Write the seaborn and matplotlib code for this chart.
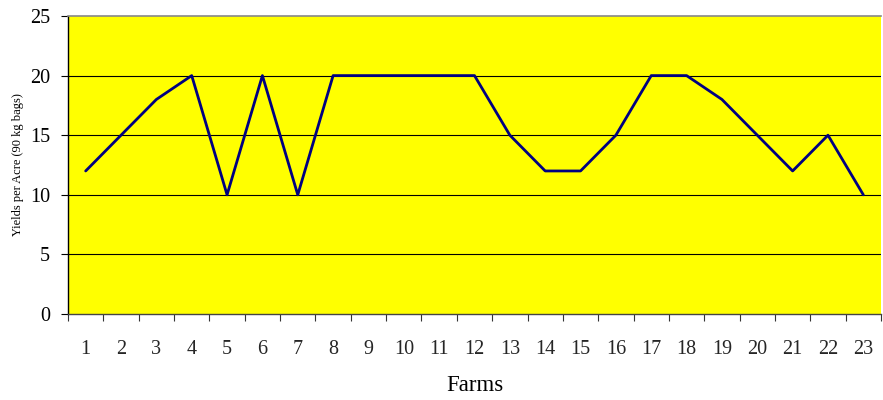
import matplotlib
matplotlib.use("Agg")
import matplotlib.pyplot as plt
import seaborn as sns
import pandas as pd
import numpy as np

farms = [str(i) for i in range(1, 24)]
yields = [12, 15, 18, 20, 10, 20, 10, 20, 20, 20, 20, 20, 15, 12, 12, 15, 20, 20, 18, 15, 12, 15, 10]
y_ticks = [0, 5, 10, 15, 20, 25]

df = pd.DataFrame({"Farm": farms, "Yield": yields})
df["pos"] = np.arange(len(df))

sns.set_theme(style="white")
plt.rcParams["font.family"] = ["Liberation Serif", "DejaVu Serif"]

fig = plt.figure(figsize=(8.83, 4.0), dpi=100)
ax = fig.add_axes([68 / 883, 86 / 400, 813 / 883, 298 / 400])
ax.set_facecolor("#FFFF00")

for v in y_ticks[1:-1]:
    ax.axhline(v, color="black", lw=0.8, zorder=1)

sns.lineplot(data=df, x="pos", y="Yield", ax=ax, color="#000080", lw=2, zorder=3)

n = len(df)
ax.set_xlim(-0.5, n - 0.5)
ax.set_ylim(0, 25)
ax.set_yticks(y_ticks)
ax.set_yticklabels([str(t) for t in y_ticks], fontsize=14.5)
ax.set_xticks(np.arange(n + 1) - 0.5)
ax.set_xticklabels([""] * (n + 1))
ax.set_xticks(df["pos"], minor=True)
ax.set_xticklabels(df["Farm"], minor=True, fontsize=14.5)
ax.tick_params(axis="x", which="major", direction="out", length=5, width=0.8, color="#333333", bottom=True)
ax.tick_params(axis="x", which="minor", length=0, pad=19, bottom=True)
ax.tick_params(axis="y", direction="out", length=5, width=0.8, color="black", left=True, pad=8, labelcolor="black")
ax.tick_params(axis="x", labelcolor="black")

for side in ["left", "bottom", "top", "right"]:
    ax.spines[side].set_visible(True)
ax.spines["left"].set_color("black")
ax.spines["left"].set_linewidth(1.0)
ax.spines["bottom"].set_color("#444444")
ax.spines["bottom"].set_linewidth(1.0)
ax.spines["top"].set_color("#888888")
ax.spines["top"].set_linewidth(1.2)
ax.spines["right"].set_visible(False)

ax.set_xlabel("Farms", fontsize=16.5, labelpad=11, color="black")
ax.set_ylabel("Yields per Acre (90 kg bags)", fontsize=9, labelpad=4, color="black")

fig.savefig("out.png", dpi=100, facecolor="white")
